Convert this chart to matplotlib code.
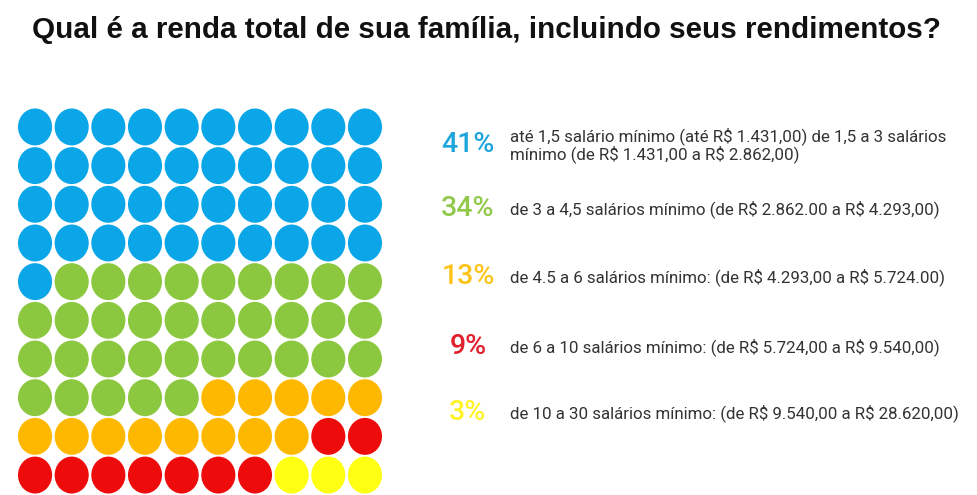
import matplotlib
matplotlib.use("Agg")
import matplotlib.pyplot as plt
from matplotlib.patches import Ellipse

title = "Qual é a renda total de sua família, incluindo seus rendimentos?"
percents = [41, 34, 13, 9, 3]
labels = [
    "até 1,5 salário mínimo (até R$ 1.431,00) de 1,5 a 3 salários\nmínimo (de R$ 1.431,00 a R$ 2.862,00)",
    "de 3 a 4,5 salários mínimo (de R$ 2.862.00 a R$ 4.293,00)",
    "de 4.5 a 6 salários mínimo: (de R$ 4.293,00 a R$ 5.724.00)",
    "de 6 a 10 salários mínimo: (de R$ 5.724,00 a R$ 9.540,00)",
    "de 10 a 30 salários mínimo: (de R$ 9.540,00 a R$ 28.620,00)",
]
dot_colors = ["#0aa6e8", "#8cc83f", "#ffb800", "#ee0b0b", "#ffff14"]
pct_colors = ["#1ea6dc", "#92c94a", "#fcc419", "#e0202c", "#fff226"]

W, H = 978, 495
fig = plt.figure(figsize=(W / 100, H / 100), dpi=100)
fig.patch.set_facecolor("white")

fig.text(487 / W, 1 - 30 / H, title, ha="center", va="center",
         fontsize=21.3, fontweight="bold", family="Liberation Sans", color="#111111")

# waffle: 10 x 10, filled row by row from the top-left
ax = fig.add_axes([16.7 / W, 0.6 / H, 366.6 / W, 386.8 / H])
ax.set_xlim(-0.5, 9.5)
ax.set_ylim(9.5, -0.5)
ax.axis("off")
cells = []
for c, n in zip(dot_colors, percents):
    cells += [c] * n
for i, c in enumerate(cells):
    r, col = divmod(i, 10)
    ax.add_patch(Ellipse((col, r), 0.93, 0.955, facecolor=c, edgecolor="none"))

# legend
ys = [145, 209, 277, 347, 413]
for y, p, pc, lab in zip(ys, percents, pct_colors, labels):
    fig.text(468 / W, 1 - y / H, f"{p}%", ha="center", va="center",
             fontsize=20.5, fontweight="medium", family="Roboto", color=pc)
    fig.text(510 / W, 1 - y / H, lab, ha="left", va="center", parse_math=False,
             fontsize=12.2, family="Roboto", color="#333333", linespacing=1.0)

fig.savefig("out.png", dpi=100, facecolor="white")
